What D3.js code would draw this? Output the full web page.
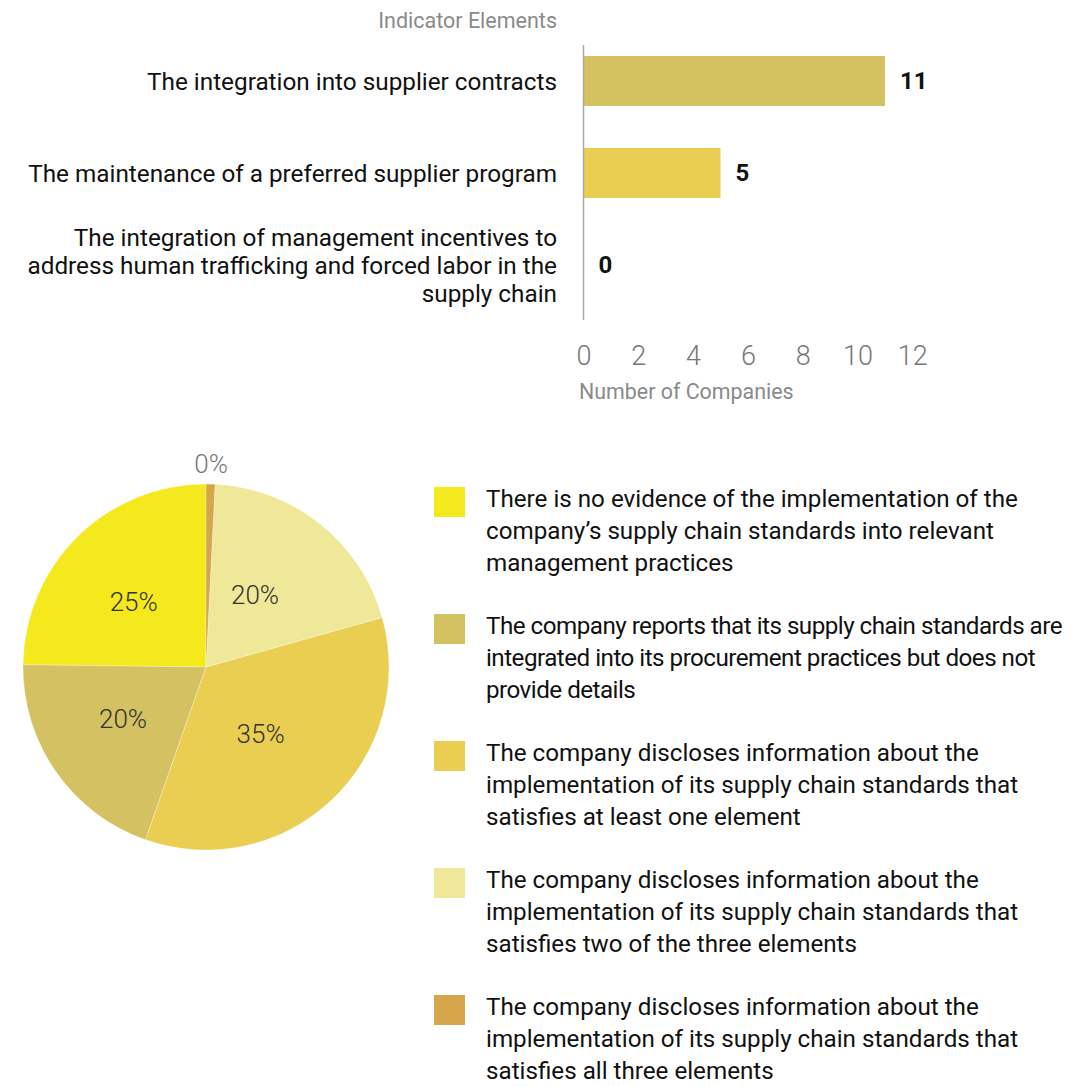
<!DOCTYPE html>
<html>
<head>
<meta charset="utf-8">
<script src="https://cdn.jsdelivr.net/npm/d3@7"></script>
<style>
  html, body { margin: 0; padding: 0; background: #fff; }
  svg { display: block; font-family: Roboto, "Noto Sans", sans-serif; }
</style>
</head>
<body>
<svg id="chart" width="1081" height="1086"></svg>
<script>
// Bar chart: indicator elements and how many companies satisfy each
const elementNames = [
  "The integration into supplier contracts",
  "The maintenance of a preferred supplier program",
  "The integration of management incentives to address human trafficking and forced labor in the supply chain"
];
const companyCounts = [11, 5, 0];
const barColors = ["#D4C160", "#E9CE52", "#E9CE52"];
const xTicks = [0, 2, 4, 6, 8, 10, 12];

// Pie chart: share of companies per implementation level
const levelNames = [
  "There is no evidence of the implementation of the company\u2019s supply chain standards into relevant management practices",
  "The company reports that its supply chain standards are integrated into its procurement practices but does not provide details",
  "The company discloses information about the implementation of its supply chain standards that satisfies at least one element",
  "The company discloses information about the implementation of its supply chain standards that satisfies two of the three elements",
  "The company discloses information about the implementation of its supply chain standards that satisfies all three elements"
];
const levelShares = [25, 20, 35, 20, 0];
const levelColors = ["#F4E91C", "#D4C161", "#E9CE52", "#F0E899", "#D6A64A"];

const svg = d3.select("#chart");

// split a string into lines no wider than maxWidth (measured in textSel's font)
function wrapText(textSel, str, maxWidth) {
  const words = str.split(/\s+/);
  const lines = [];
  let line = [];
  const probe = textSel.append("tspan");
  words.forEach(w => {
    probe.text(line.concat(w).join(" "));
    if (probe.node().getComputedTextLength() > maxWidth && line.length) {
      lines.push(line.join(" "));
      line = [w];
    } else {
      line.push(w);
    }
  });
  if (line.length) lines.push(line.join(" "));
  probe.remove();
  return lines;
}

/* ---------- bar chart ---------- */
const x = d3.scaleLinear().domain([0, 12]).range([583.5, 583.5 + 12 * 27.4]);
const y = d3.scaleBand()
  .domain(elementNames)
  .range([35, 311])
  .paddingInner(0.457)
  .paddingOuter(0.2285);

svg.append("text")
  .attr("x", 557).attr("y", 20)
  .attr("text-anchor", "end")
  .attr("dominant-baseline", "central")
  .attr("font-size", 21.5)
  .attr("fill", "#8a8a8a")
  .text("Indicator Elements");

svg.selectAll("rect.bar")
  .data(elementNames)
  .join("rect")
  .attr("class", "bar")
  .attr("x", x(0))
  .attr("y", d => y(d))
  .attr("width", (d, i) => x(companyCounts[i]) - x(0))
  .attr("height", y.bandwidth())
  .attr("fill", (d, i) => barColors[i]);

// left axis line
svg.append("line")
  .attr("x1", x(0)).attr("x2", x(0))
  .attr("y1", 45).attr("y2", 320)
  .attr("stroke", "#aaa").attr("stroke-width", 1.5);

// category labels, wrapped and centered on each band
elementNames.forEach(name => {
  const lh = 28;
  const t = svg.append("text")
    .attr("text-anchor", "end")
    .attr("font-size", 24.3)
    .attr("fill", "#111");
  const lines = wrapText(t, name, 540);
  const cy = y(name) + y.bandwidth() / 2;
  lines.forEach((ln, k) => {
    t.append("tspan")
      .attr("x", 557)
      .attr("y", cy + (k - (lines.length - 1) / 2) * lh)
      .attr("dy", "0.35em")
      .text(ln);
  });
});

// value labels
svg.selectAll("text.val")
  .data(elementNames)
  .join("text")
  .attr("class", "val")
  .attr("x", (d, i) => x(companyCounts[i]) + 15)
  .attr("y", d => y(d) + y.bandwidth() / 2)
  .attr("dy", "0.35em")
  .attr("font-size", 24)
  .attr("font-weight", 700)
  .attr("fill", "#111")
  .text((d, i) => companyCounts[i]);

// x axis
const xAxis = svg.append("g")
  .attr("transform", "translate(0,345)")
  .call(d3.axisBottom(x).tickValues(xTicks).tickSize(0).tickPadding(0));
xAxis.select(".domain").remove();
xAxis.selectAll("text")
  .attr("font-family", "Roboto, sans-serif")
  .attr("font-size", 27)
  .attr("font-weight", 300)
  .attr("fill", "#777")
  .attr("dy", "0.75em");

svg.append("text")
  .attr("x", 579).attr("y", 391)
  .attr("dominant-baseline", "central")
  .attr("font-size", 21.4)
  .attr("fill", "#8a8a8a")
  .text("Number of Companies");

/* ---------- pie chart ---------- */
const cx = 206, cy = 667, R = 183;
// empty categories still get a thin visible sliver
const pie = d3.pie()
  .sort(null)
  .value(d => Math.max(d, 0.8))
  .startAngle(0)
  .endAngle(-2 * Math.PI);
const arcs = pie(levelShares);
const arc = d3.arc().innerRadius(0).outerRadius(R);

const pg = svg.append("g").attr("transform", `translate(${cx},${cy})`);
pg.selectAll("path")
  .data(arcs)
  .join("path")
  .attr("d", arc)
  .attr("fill", (d, i) => levelColors[i])
  .attr("stroke", "#fff")
  .attr("stroke-opacity", 0.5)
  .attr("stroke-width", 0.6);

const labelArc = d3.arc().innerRadius(0).outerRadius(R);
const outerArc = d3.arc().innerRadius(R + 20).outerRadius(R + 20);
pg.selectAll("text")
  .data(arcs)
  .join("text")
  .attr("transform", d => {
    const c = d.data > 0 ? labelArc.centroid(d) : outerArc.centroid(d);
    return `translate(${c})`;
  })
  .attr("dx", d => d.data > 0 ? -8 : 0)
  .attr("text-anchor", "middle")
  .attr("dominant-baseline", "central")
  .attr("font-size", 26)
  .attr("font-weight", 300)
  .attr("fill", d => d.data > 0 ? "#333" : "#777")
  .text(d => d.data + "%");

/* ---------- legend ---------- */
const lg = svg.append("g");
const legendMax = 576;
levelNames.forEach((name, i) => {
  const top = 499 + i * 127;
  lg.append("rect")
    .attr("x", 434).attr("y", top - 12)
    .attr("width", 31).attr("height", 30)
    .attr("fill", levelColors[i]);
  const t = lg.append("text")
    .attr("font-size", 24.2)
    .attr("fill", "#111");
  const lines = wrapText(t, name, 615);
  let shrink = 0;
  lines.forEach((ln, k) => {
    const ts = t.append("tspan")
      .attr("x", 486)
      .attr("y", top + k * 32)
      .attr("dy", "0.35em")
      .text(ln);
    const w = ts.node().getComputedTextLength();
    if (w > legendMax) shrink = Math.min(shrink, (legendMax - w) / ln.length);
  });
  // tighten letter spacing so long lines stay inside the right edge
  if (shrink < 0) t.attr("letter-spacing", shrink.toFixed(3) + "px");
});
</script>
</body>
</html>
